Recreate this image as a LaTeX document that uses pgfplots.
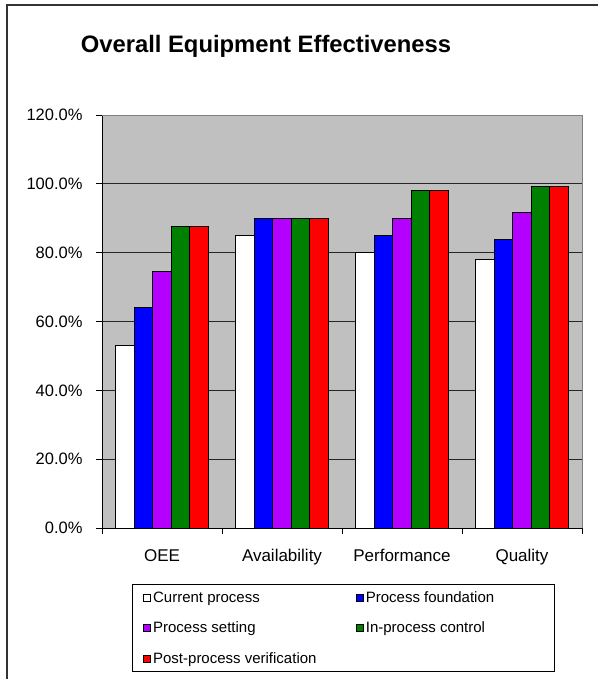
\documentclass[border=0pt]{standalone}
\usepackage{pgfplots}
\pgfplotsset{compat=1.18}
\usepackage{fontspec}
\setmainfont{Liberation Sans}
\definecolor{bgray}{HTML}{C0C0C0}
\definecolor{cblue}{HTML}{0000FF}
\definecolor{cpurple}{HTML}{B300FF}
\definecolor{cgreen}{HTML}{008000}
\definecolor{cred}{HTML}{FF0000}
\newcommand{\legtxt}[1]{\makebox[176pt][l]{#1}}
\begin{document}
\begin{tikzpicture}[x=1pt,y=1pt]
\useasboundingbox (0,0) rectangle (597,679);
\draw[line width=1.5pt,black!80] (7,0) -- (7,674) -- (600,674);
\node[font=\fontsize{23.8}{26}\selectfont\bfseries] at (266,633) {Overall Equipment Effectiveness};
\begin{axis}[
  at={(102pt,151pt)}, anchor=south west,
  scale only axis, width=480pt, height=413pt,
  ybar=0pt, bar width=18.5pt,
  xmin=-0.5, xmax=3.5, ymin=0, ymax=120,
  axis lines*=left,
  axis line style={black, line width=0.9pt},
  axis background/.style={fill=bgray},
  ytick={0,20,40,60,80,100,120},
  yticklabels={0.0\%,20.0\%,40.0\%,60.0\%,80.0\%,100.0\%,120.0\%},
  xtick={-0.5,0.5,1.5,2.5,3.5},
  xticklabels={},
  extra x ticks={0,1,2,3},
  extra x tick labels={OEE,Availability,Performance,Quality},
  extra x tick style={major tick length=0pt, grid=none},
  tick align=outside, major tick length=6pt,
  tick style={black, line width=0.9pt},
  ymajorgrids, major grid style={black!85, line width=0.8pt},
  /pgf/number format/assume math mode=true,
  yticklabel style={font=\fontsize{16.5}{18}\selectfont, xshift=-10pt},
  xticklabel style={font=\fontsize{17}{19}\selectfont, yshift=-18pt},
  every axis plot/.append style={draw=black, line width=0.9pt},
  legend image code/.code={\draw[#1,draw=black,line width=0.7pt] (0pt,-3.5pt) rectangle (7pt,3.5pt);},
  legend columns=2,
  legend cell align=left,
  legend style={at={(0.0625,-0.1356)}, anchor=north west, draw=black, line width=0.9pt,
    font=\fontsize{15}{17}\selectfont, inner xsep=11pt, inner ysep=5pt,
    row sep=14pt, /tikz/every even column/.append style={column sep=25pt}},
  after end axis/.code={\draw[gray, line width=0.9pt] (rel axis cs:0,1) -- (rel axis cs:1,1) -- (rel axis cs:1,0);},
]
\addplot[fill=white] coordinates {(0,53) (1,85) (2,80) (3,78)};
\addplot[fill=cblue] coordinates {(0,64.1) (1,90) (2,85) (3,83.8)};
\addplot[fill=cpurple] coordinates {(0,74.6) (1,90) (2,90) (3,91.8)};
\addplot[fill=cgreen] coordinates {(0,87.6) (1,90) (2,98) (3,99.1)};
\addplot[fill=cred] coordinates {(0,87.6) (1,90) (2,98) (3,99.1)};
\legend{\legtxt{Current process},\legtxt{Process foundation},\legtxt{Process setting},\legtxt{In-process control},\legtxt{Post-process verification}}
\end{axis}
\end{tikzpicture}
\end{document}
